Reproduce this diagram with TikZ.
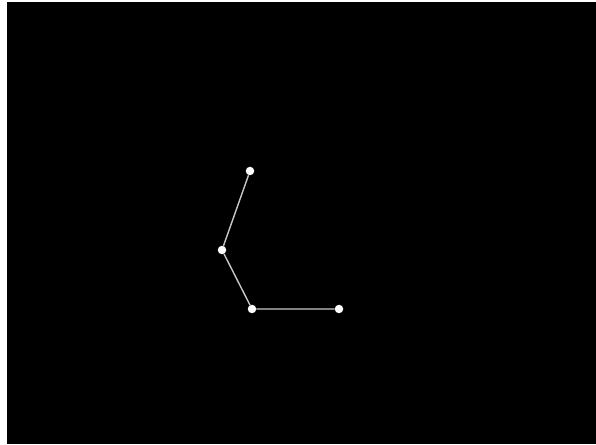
\documentclass[tikz,border=0pt]{standalone}
\usepackage{xcolor}
\usepackage{tikz}
\definecolor{linkgray}{RGB}{200, 200, 200}

\begin{document}
\begin{tikzpicture}[x=1pt, y=1pt,
    joint/.style={circle, fill=white, inner sep=0pt, minimum size=8.5pt},
    link/.style={draw=linkgray, line width=1.4pt}]
    \fill[white] (0,0) rectangle (596,444);
    \useasboundingbox (0,0) rectangle (596,444);
    \fill[black] (7,0) rectangle (596,442);

    \node[joint] (tip) at (250,273) {};
    \node[joint] (elbow) at (222,194) {};
    \node[joint] (knee) at (252,135) {};
    \node[joint] (base) at (339,135) {};

    \draw[link] (tip) -- (elbow) -- (knee) -- (base);
\end{tikzpicture}
\end{document}
